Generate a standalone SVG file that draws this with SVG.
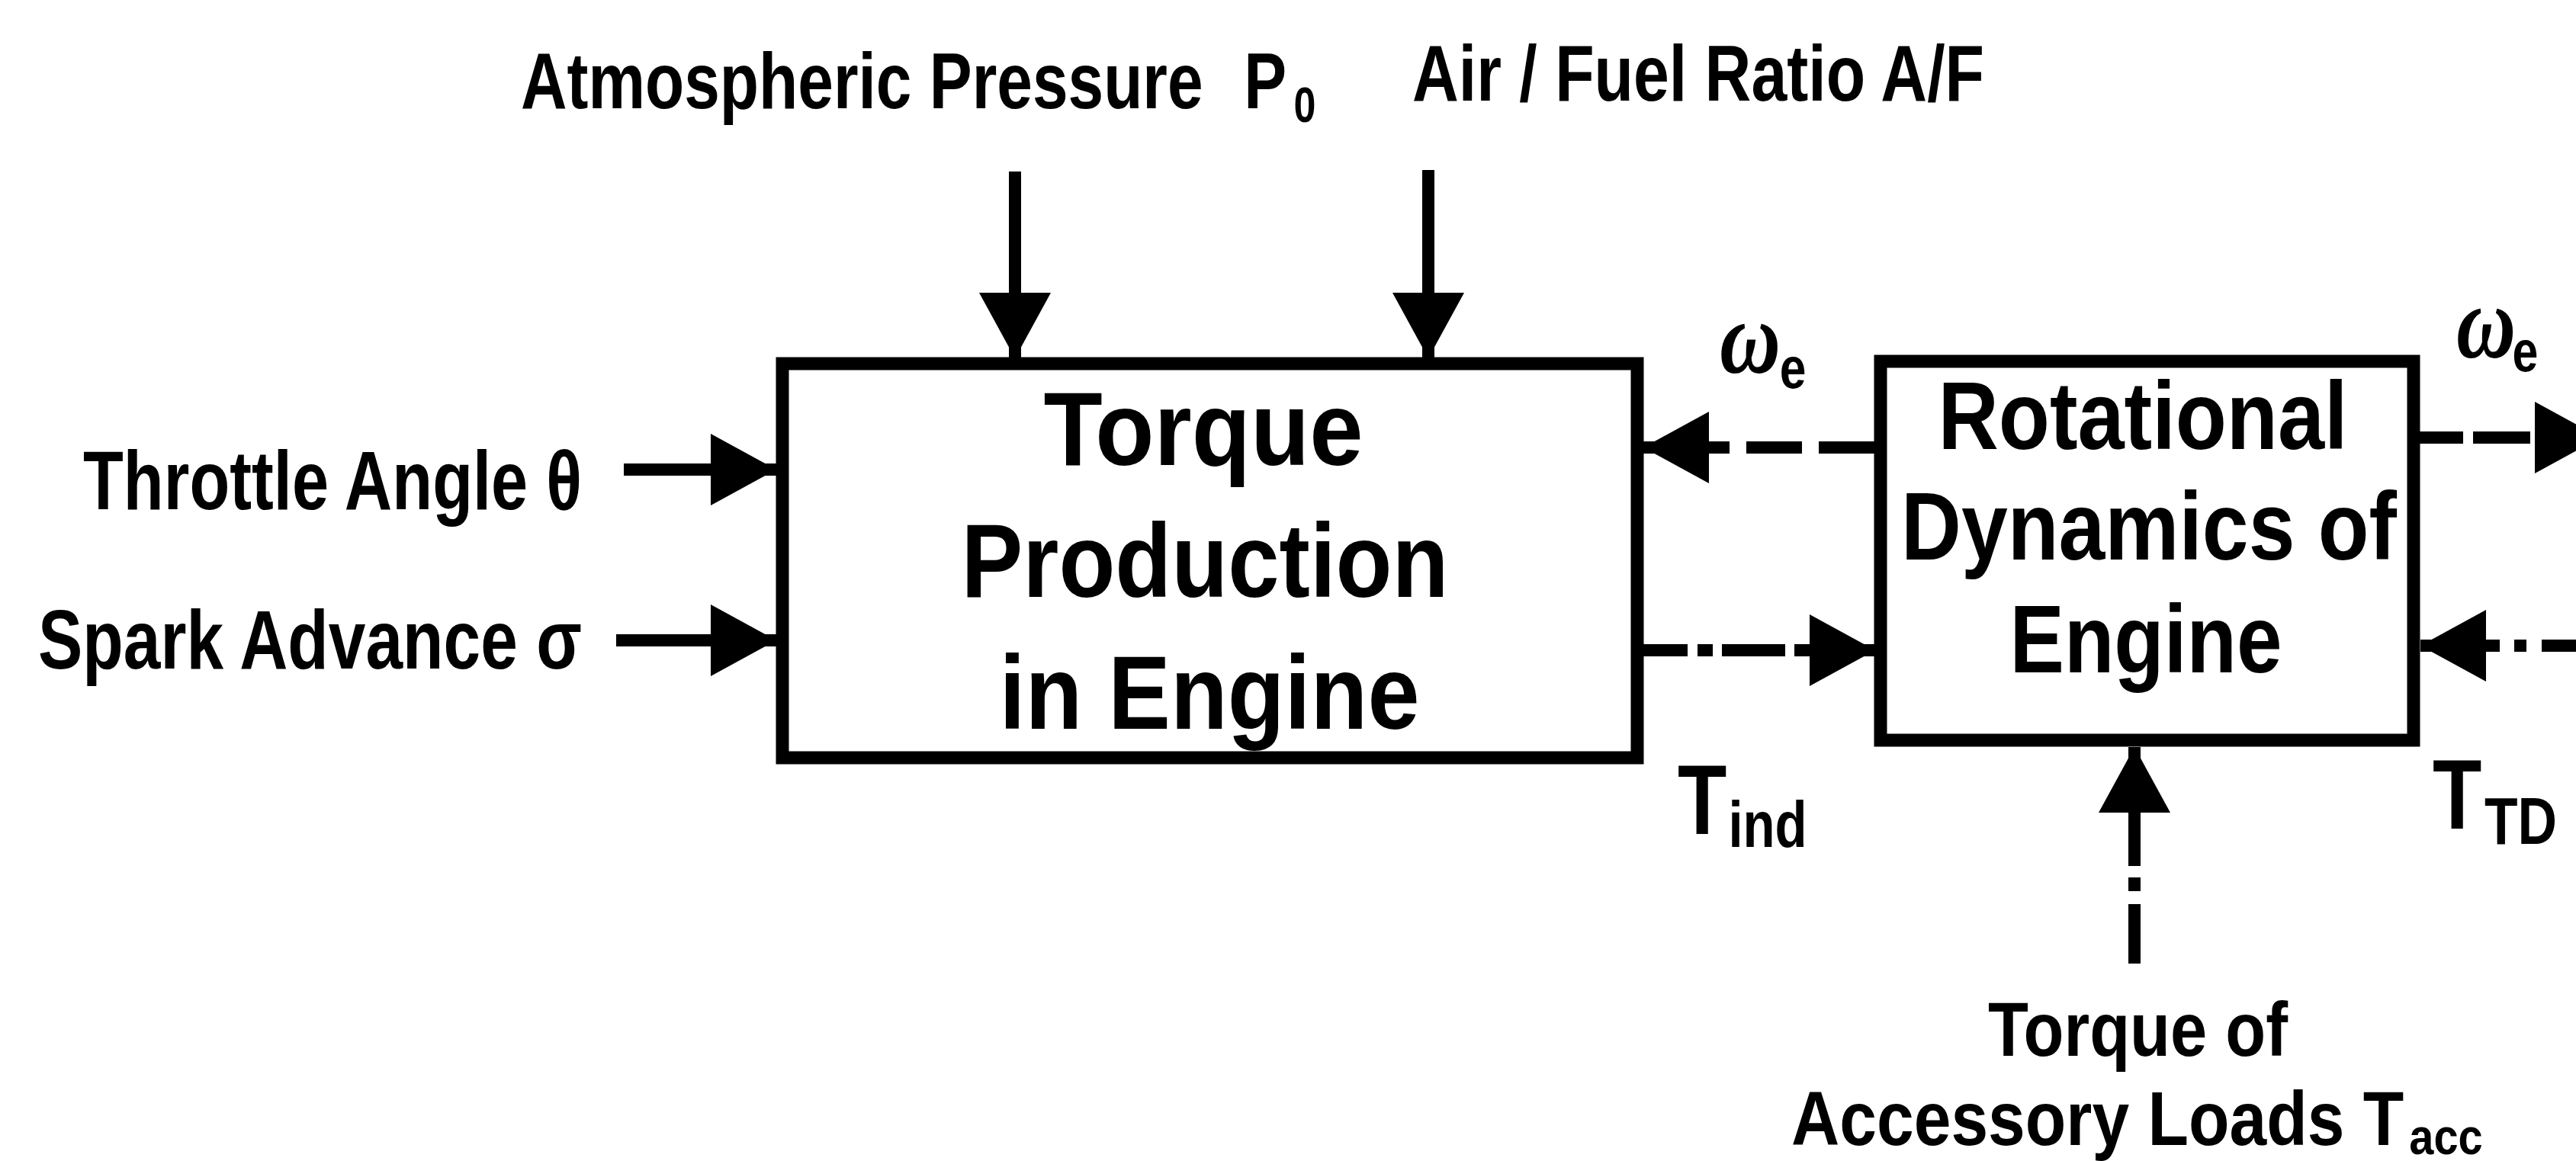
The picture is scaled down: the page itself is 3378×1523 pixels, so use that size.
<svg xmlns="http://www.w3.org/2000/svg" width="3378" height="1523" viewBox="0 0 3378 1523">
<style>
  .box { fill: #fff; stroke: #000; stroke-width: 17; }
  .ln { fill: none; stroke: #000; stroke-width: 16; }
  text { font-family: "Liberation Sans", Arial, sans-serif; font-weight: bold; fill: #000; }
  .lbl { font-size: 103px; }
  .side { font-size: 110px; }
  .bt1 { font-size: 137px; text-anchor: middle; }
  .bt2 { font-size: 126px; text-anchor: middle; }
  .bot { font-size: 100px; }
  .om { font-family: "Liberation Serif", "Times New Roman", serif; font-style: italic; font-weight: bold; font-size: 135px; }
</style>
<defs>
  <marker id="ah" markerUnits="userSpaceOnUse" markerWidth="88" markerHeight="96" refX="86" refY="47" orient="auto" viewBox="0 0 88 96">
    <path d="M0,0 L86,47 L0,94 Z" fill="#000"/>
  </marker>
</defs>

<g id="connectors">
  <path id="c-atm" class="ln" d="M1331,225 V470" marker-end="url(#ah)"/>
  <path id="c-af" class="ln" d="M1873,223 V470" marker-end="url(#ah)"/>
  <path id="c-throttle" class="ln" d="M818,616 H1018" marker-end="url(#ah)"/>
  <path id="c-spark" class="ln" d="M808,840 H1018" marker-end="url(#ah)"/>
  <path id="c-we-back" class="ln" d="M2458,587 H2155" stroke-dasharray="73 22" marker-end="url(#ah)"/>
  <path id="c-tind" class="ln" d="M2155,853 H2459" stroke-dasharray="58 13 20 12 83 12 20 12 200" marker-end="url(#ah)"/>
  <path id="c-we-out" class="ln" d="M3173,574 H3410" stroke-dasharray="57 13 75 10 200" marker-end="url(#ah)"/>
  <path id="c-ttd" class="ln" d="M3400,847 H3174" stroke-dasharray="67 20 16 19 200" marker-end="url(#ah)"/>
  <path id="c-tacc" class="ln" d="M2799,1264 V980" stroke-dasharray="78 17 18 15 300" marker-end="url(#ah)"/>
</g>

<g id="node-torque-production">
  <rect class="box" x="1026" y="477" width="1121" height="517"/>
  <text class="bt1" x="1578" y="610" textLength="419" lengthAdjust="spacingAndGlyphs">Torque</text>
  <text class="bt1" x="1580" y="783" textLength="639" lengthAdjust="spacingAndGlyphs">Production</text>
  <text class="bt1" x="1586" y="956" textLength="551" lengthAdjust="spacingAndGlyphs">in Engine</text>
</g>

<g id="node-rotational-dynamics">
  <rect class="box" x="2466" y="474" width="699" height="497"/>
  <text class="bt2" x="2810" y="589" textLength="537" lengthAdjust="spacingAndGlyphs">Rotational</text>
  <text class="bt2" x="2818" y="734" textLength="650" lengthAdjust="spacingAndGlyphs">Dynamics of</text>
  <text class="bt2" x="2814" y="882" textLength="357" lengthAdjust="spacingAndGlyphs">Engine</text>
</g>

<g id="labels">
  <text id="lbl-atm" class="lbl" transform="translate(683,142) scale(0.814,1)"><tspan x="0" y="0">Atmospheric Pressure</tspan><tspan x="1165" y="0">P</tspan><tspan x="1245" y="18" font-size="64">0</tspan></text>
  <text id="lbl-af" class="lbl" x="1852" y="132" textLength="750" lengthAdjust="spacingAndGlyphs">Air / Fuel Ratio A/F</text>
  <text id="lbl-throttle" class="side" x="109" y="668" textLength="654" lengthAdjust="spacingAndGlyphs">Throttle Angle θ</text>
  <text id="lbl-spark" class="side" x="50" y="877" textLength="713" lengthAdjust="spacingAndGlyphs">Spark Advance σ</text>
  <text id="lbl-we1" transform="translate(2255,489) scale(0.82,1)"><tspan class="om" x="0" y="0">ω</tspan><tspan x="96" y="20" font-size="76">e</tspan></text>
  <text id="lbl-we2" transform="translate(3221,469) scale(0.8,1)"><tspan class="om" x="0" y="0">ω</tspan><tspan x="92" y="18" font-size="76">e</tspan></text>
  <text id="lbl-tind" transform="translate(2200,1094) scale(0.81,1)"><tspan x="0" y="0" font-size="130">T</tspan><tspan x="82" y="17" font-size="85">ind</tspan></text>
  <text id="lbl-ttd" transform="translate(3190,1087) scale(0.81,1)"><tspan x="0" y="0" font-size="130">T</tspan><tspan x="84" y="20" font-size="88">TD</tspan></text>
  <text id="lbl-tacc1" class="bot" x="2607" y="1385" textLength="393" lengthAdjust="spacingAndGlyphs">Torque of</text>
  <text id="lbl-tacc2" class="bot" transform="translate(2349,1502) scale(0.876,1)"><tspan x="0" y="0">Accessory Loads T</tspan><tspan x="925" y="12" font-size="66">acc</tspan></text>
</g>
</svg>
